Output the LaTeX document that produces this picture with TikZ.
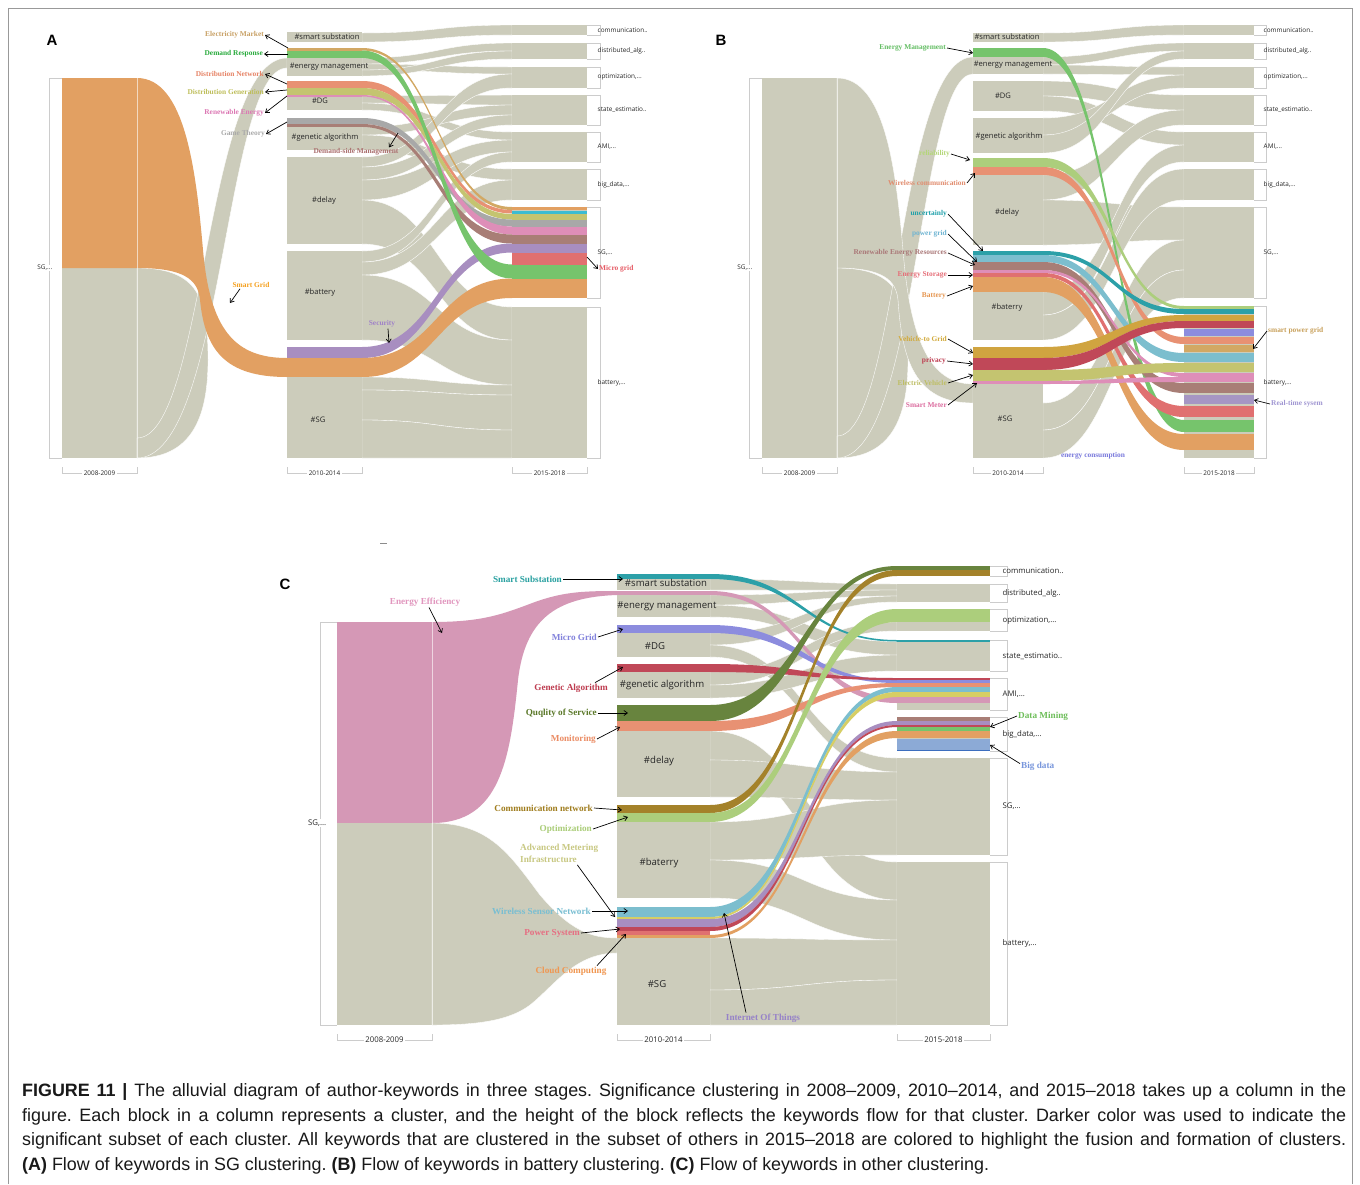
\documentclass[tikz,border=0pt]{standalone}
\usepackage{fontspec}
\setmainfont{Liberation Sans}
\newfontfamily\lblfont{Liberation Serif}
\newfontfamily\blkfont{Open Sans}
\usetikzlibrary{arrows.meta}
\definecolor{fgray}{RGB}{204,204,187}
\definecolor{cor}{RGB}{226,160,98}
\definecolor{ctan}{RGB}{210,168,100}
\definecolor{cgrn}{RGB}{118,196,108}
\definecolor{csal}{RGB}{232,145,115}
\definecolor{coli}{RGB}{196,196,112}
\definecolor{cpnk}{RGB}{222,142,184}
\definecolor{cdgy}{RGB}{168,168,168}
\definecolor{cbrn}{RGB}{168,126,118}
\definecolor{cpur}{RGB}{168,142,192}
\definecolor{cred}{RGB}{224,112,112}
\definecolor{ccya}{RGB}{60,188,210}
\definecolor{cteal}{RGB}{44,160,168}
\definecolor{clbl}{RGB}{124,190,206}
\definecolor{cgold}{RGB}{208,164,64}
\definecolor{cprv}{RGB}{192,72,88}
\definecolor{cper}{RGB}{140,140,222}
\definecolor{clav}{RGB}{166,150,196}
\definecolor{cpkC}{RGB}{213,152,182}
\definecolor{cdol}{RGB}{104,132,62}
\definecolor{cdgd}{RGB}{164,130,42}
\definecolor{clgr}{RGB}{172,206,124}
\definecolor{cblu}{RGB}{140,170,214}
\definecolor{cyel}{RGB}{214,206,100}
\definecolor{cdbl}{RGB}{60,110,190}
% text colours
\definecolor{tEM}{RGB}{200,160,100}
\definecolor{tDR}{RGB}{40,170,60}
\definecolor{tDN}{RGB}{230,130,100}
\definecolor{tDG}{RGB}{190,190,90}
\definecolor{tRE}{RGB}{220,120,180}
\definecolor{tGT}{RGB}{170,170,170}
\definecolor{tDS}{RGB}{170,110,110}
\definecolor{tSG}{RGB}{245,160,30}
\definecolor{tSE}{RGB}{160,130,200}
\definecolor{tMG}{RGB}{230,90,100}
\definecolor{tEB}{RGB}{100,190,100}
\definecolor{tRL}{RGB}{180,215,120}
\definecolor{tWC}{RGB}{225,140,110}
\definecolor{tUN}{RGB}{30,160,170}
\definecolor{tPG}{RGB}{110,180,210}
\definecolor{tRR}{RGB}{170,120,120}
\definecolor{tES}{RGB}{230,110,120}
\definecolor{tBA}{RGB}{230,150,80}
\definecolor{tVG}{RGB}{210,170,60}
\definecolor{tPV}{RGB}{190,60,80}
\definecolor{tEV}{RGB}{190,190,100}
\definecolor{tSM}{RGB}{220,110,160}
\definecolor{tSP}{RGB}{200,160,90}
\definecolor{tRT}{RGB}{160,150,210}
\definecolor{tEC}{RGB}{120,120,220}
\definecolor{tSS}{RGB}{40,160,160}
\definecolor{tEE}{RGB}{225,150,190}
\definecolor{tMC}{RGB}{130,130,220}
\definecolor{tGA}{RGB}{190,60,80}
\definecolor{tQS}{RGB}{90,120,40}
\definecolor{tMO}{RGB}{235,140,100}
\definecolor{tCN}{RGB}{160,125,30}
\definecolor{tOP}{RGB}{170,205,120}
\definecolor{tAM}{RGB}{200,200,130}
\definecolor{tWS}{RGB}{120,190,210}
\definecolor{tPS}{RGB}{230,110,130}
\definecolor{tCC}{RGB}{240,150,80}
\definecolor{tIT}{RGB}{150,130,200}
\definecolor{tDM}{RGB}{110,190,90}
\definecolor{tBD}{RGB}{120,150,220}
\newcommand{\flowband}[7]{%
  \path[#1] (#2,#3) .. controls ({(#2+#5)/2},#3) and ({(#2+#5)/2},#6) .. (#5,#6)
    -- (#5,#7) .. controls ({(#2+#5)/2},#7) and ({(#2+#5)/2},#4) .. (#2,#4) -- cycle;}
\frenchspacing
\begin{document}
\begin{tikzpicture}[x=1pt,y=-1pt,
  gflow/.style={fill=fgray,draw=white,line width=0.35pt},
  brk/.style={draw=black!20,line width=0.5pt},
  lbl/.style={font=\lblfont\bfseries\fontsize{7.4}{8}\selectfont,inner sep=1pt},
  lblc/.style={font=\lblfont\bfseries\fontsize{9.2}{10}\selectfont,inner sep=1pt},
  blkA/.style={font=\blkfont\fontsize{7.6}{8}\selectfont,inner sep=0pt,text=black!85},
  blkC/.style={font=\blkfont\fontsize{9.6}{10}\selectfont,inner sep=0pt,text=black!85},
  colA/.style={font=\blkfont\fontsize{6.4}{7}\selectfont,inner sep=0.5pt,anchor=west,text=black!85},
  colC/.style={font=\blkfont\fontsize{7.8}{9}\selectfont,inner sep=0.5pt,anchor=west,text=black!85},
  axA/.style={font=\blkfont\fontsize{6.4}{7}\selectfont,fill=white,inner sep=1.5pt,text=black!85},
  axC/.style={font=\blkfont\fontsize{7.8}{9}\selectfont,fill=white,inner sep=1.5pt,text=black!85},
  arr/.style={-{Straight Barb[length=3.5pt,width=5pt]},line width=0.7pt,black},
  captxt/.style={font=\fontsize{17.9}{21}\selectfont,inner sep=0pt,anchor=west,text=black!90},
  plet/.style={font=\bfseries\fontsize{15}{17}\selectfont,inner sep=0pt}
]
\useasboundingbox (0,0) rectangle (1360,1184);
\fill[white] (0,0) rectangle (1360,1184);
\draw[black!40,line width=1pt] (8,1184) -- (8,8) -- (1352,8) -- (1352,1184);

%================ PANEL A ================
\node[plet] (pA) at (52,40) {A};
\foreach \a/\b/\c/\d in {33/42/25/35, 58/64/43/51, 64/70/67/74, 70/76/51/59, 96/103/95/105, 103/110/132/140, 127/135/105/115, 135/150/169/180, 157/167/74/88, 167/180/115/125, 180/200/140/152, 200/244/307/340, 251/262/152/162, 262/275/180/200, 275/340/340/385, 377/390/385/395, 390/420/395/430, 420/458/430/458}{\flowband{gflow}{362}{\a}{\b}{512}{\c}{\d}}
\fill[fgray] (62,268) rectangle (137,458);
\path[gflow] (137,268) .. controls (200,268) and (208,300) .. (208,360) .. controls (208,420) and (190,458) .. (137,458) -- cycle;
\path[gflow] (137,438) .. controls (205,438) and (205,58) .. (287,58) -- (287,68) .. controls (224,68) and (224,458) .. (137,458) -- cycle;
\path[fill=cor] (62,78) -- (137,78) .. controls (185,78) and (196,170) .. (203,250) .. controls (210,330) and (235,358) .. (287,358) -- (287,377) .. controls (225,377) and (205,350) .. (200,300) .. controls (198,280) and (185,268) .. (137,268) -- (62,268) -- cycle;
\draw[white,opacity=0.6,line width=0.6pt] (137,78) -- (137,458);
\draw[brk] (62,78) -- (49,78) -- (49,458) -- (62,458);
\node[colA,anchor=east,fill=white] (aS1) at (53,268) {SG,...};
\foreach \a/\b in {32/42,48/76,81/110,118/150,157/244,251/340,347/458}{\fill[fgray] (287,\a) rectangle (362,\b);}
\fill[ctan] (287,48) rectangle (362,50.5);
\fill[cgrn] (287,50.5) rectangle (362,58);
\fill[csal] (287,81) rectangle (362,88);
\fill[coli] (287,88) rectangle (362,95);
\fill[cpnk] (287,95) rectangle (362,96.5);
\fill[cdgy] (287,118) rectangle (362,124);
\fill[cbrn] (287,124) rectangle (362,127);
\fill[cpur] (287,347) rectangle (362,358);
\fill[cor] (287,358) rectangle (362,377);
\flowband{fill=ctan}{362}{48}{50.5}{512}{207}{210}
\flowband{fill=csal}{362}{81}{88}{512}{210}{213.5}
\flowband{fill=coli}{362}{88}{95}{512}{214}{219.5}
\flowband{fill=cdgy}{362}{118}{124}{512}{219.5}{226.5}
\flowband{fill=cpnk}{362}{95}{96.5}{512}{226.5}{234.5}
\flowband{fill=cbrn}{362}{124}{127}{512}{234.5}{243.5}
\flowband{fill=cpur}{362}{347}{358}{512}{243.5}{252.5}
\flowband{fill=cgrn}{362}{50.5}{58}{512}{264.5}{278.5}
\flowband{fill=cor}{362}{358}{377}{512}{278.5}{298}
\foreach \a/\b in {25/35,43/59,67/88,95/125,132/162,169/200,207/298,307/458}{\fill[fgray] (512,\a) rectangle (587,\b); \draw[brk] (587,\a) -- (600,\a) -- (600,\b) -- (587,\b);}
\fill[cor] (512,207) rectangle (587,210);
\fill[ccya] (512,210.5) rectangle (587,213.5);
\fill[coli] (512,214) rectangle (587,219.5);
\fill[cdgy] (512,219.5) rectangle (587,226.5);
\fill[cpnk] (512,226.5) rectangle (587,234.5);
\fill[cbrn] (512,234.5) rectangle (587,243.5);
\fill[cpur] (512,243.5) rectangle (587,252.5);
\fill[cred] (512,252.5) rectangle (587,264.5);
\fill[cgrn] (512,264.5) rectangle (587,278.5);
\fill[cor] (512,278.5) rectangle (587,298);
% block texts
\node[blkA] (a21) at (327,37) {\#smart substation};
\node[blkA] (a22) at (329,67) {\#energy management};
\node[blkA] (a23) at (320,101) {\#DG};
\node[blkA] (a24) at (325,138) {\#genetic algorithm};
\node[blkA] (a25) at (324,201) {\#delay};
\node[blkA] (a26) at (320,293) {\#battery};
\node[blkA] (a27) at (318,420) {\#SG};
\node[colA] (a31) at (597,30) {communication..};
\node[colA] (a32) at (597,51) {distributed\_alg..};
\node[colA] (a33) at (597,77) {optimization,...};
\node[colA] (a34) at (597,110) {state\_estimatio..};
\node[colA] (a35) at (597,147) {AMI,...};
\node[colA] (a36) at (597,185) {big\_data,...};
\node[colA] (a37) at (597,253) {SG,...};
\node[colA] (a38) at (597,383) {battery,...};
\draw[brk] (62,467) -- (62,473) -- (137,473) -- (137,467);
\draw[brk] (287,467) -- (287,473) -- (362,473) -- (362,467);
\draw[brk] (512,467) -- (512,473) -- (587,473) -- (587,467);
\node[axA] (ax1) at (99.5,473) {2008-2009};
\node[axA] (ax2) at (324.5,473) {2010-2014};
\node[axA] (ax3) at (549.5,473) {2015-2018};
% labels A
\node[lbl,text=tEM,anchor=east] (lEM) at (265,35) {Electricity Market};
\node[lbl,text=tDR,anchor=east] (lDR) at (264,54) {Demand Response};
\node[lbl,text=tDN,anchor=east] (lDN) at (265,74) {Distribution Network};
\node[lbl,text=tDG,anchor=east] (lDG) at (265,92) {Distribution Generation};
\node[lbl,text=tRE,anchor=east] (lRE) at (265,113) {Renewable Energy};
\node[lbl,text=tGT,anchor=east] (lGT) at (266,134) {Game Theory};
\node[lbl,text=tDS] (lDS) at (356,152) {Demand-side Management};
\node[lbl,text=tSG] (lSG) at (251,285) {Smart Grid};
\node[lbl,text=tSE] (lSE) at (382,324) {Security};
\node[lbl,text=tMG,anchor=west] (lMG) at (598,269) {Micro grid};
\coordinate (kEM) at (288,48); \coordinate (kDR) at (288,54);
\coordinate (kDN) at (287,84); \coordinate (kDG) at (287,90);
\coordinate (kRE) at (287,96); \coordinate (kGT) at (287,122);
\coordinate (kDS) at (398,133); \coordinate (kSG) at (230,303);
\coordinate (kSE) at (389,343); \coordinate (kMG) at (587,257);
\draw[arr] (kEM) -- (lEM.east);
\draw[arr] (kDR) -- (lDR.east);
\draw[arr] (kDN) -- (lDN.east);
\draw[arr] (kDG) -- (lDG.east);
\draw[arr] (kRE) -- (lRE.east);
\draw[arr] (kGT) -- (lGT.east);
\draw[arr] (kDS) -- ([xshift=33pt]lDS.north);
\draw[arr] ([xshift=-11pt]lSG.south) -- (kSG);
\draw[arr] ([xshift=6pt]lSE.south) -- (kSE);
\draw[arr] (kMG) -- (lMG.west);

%================ PANEL B ================
\node[plet] (pB) at (721,40) {B};
\foreach \a/\b/\c/\d in {33/42/25/35, 57/65/43/51, 65/74/67/75, 81/96/95/110, 96/111/132/145, 118/135/75/88, 135/153/51/59, 175/200/110/125, 200/245/207/240, 292/315/145/162, 315/340/169/200, 403/430/240/270, 430/458/270/298}{\flowband{gflow}{1043}{\a}{\b}{1184}{\c}{\d}}
\fill[fgray] (762,78) rectangle (837,458);
\path[gflow] (837,268) .. controls (900,268) and (908,300) .. (908,360) .. controls (908,420) and (890,458) .. (837,458) -- cycle;
\path[gflow] (837,436) .. controls (898,436) and (898,57) .. (973,57) -- (973,74) .. controls (918,74) and (918,458) .. (837,458) -- cycle;
\path[gflow] (837,78) .. controls (885,78) and (896,170) .. (903,250) .. controls (910,340) and (930,384) .. (973,384) -- (973,403) .. controls (915,403) and (902,360) .. (898,300) .. controls (896,280) and (883,268) .. (837,268) -- cycle;
\draw[white,opacity=0.6,line width=0.6pt] (837,78) -- (837,458);
\draw[brk] (762,78) -- (749,78) -- (749,458) -- (762,458);
\node[colA,anchor=east,fill=white] (bS1) at (753,268) {SG,...};
\foreach \a/\b in {33/42,48/74,81/111,118/153,158/245,251/340,347/458}{\fill[fgray] (973,\a) rectangle (1043,\b);}
\fill[cgrn] (973,48) rectangle (1043,57);
\fill[clgr] (973,158) rectangle (1043,167);
\fill[csal] (973,167) rectangle (1043,175);
\fill[cteal] (973,251) rectangle (1043,255);
\fill[clbl] (973,255) rectangle (1043,262);
\fill[cbrn] (973,262) rectangle (1043,270);
\fill[cpnk] (973,270) rectangle (1043,273);
\fill[cred] (973,273) rectangle (1043,277);
\fill[cor] (973,277) rectangle (1043,292);
\fill[cgold] (973,347) rectangle (1043,358);
\fill[cprv] (973,358) rectangle (1043,370);
\fill[coli] (973,370) rectangle (1043,381);
\fill[cpnk] (973,381) rectangle (1043,384);
\flowband{fill=cgrn}{1043}{48}{57}{1184}{420}{432}
\flowband{fill=clgr}{1043}{158}{167}{1184}{306}{309}
\flowband{fill=csal}{1043}{167}{175}{1184}{337}{344}
\flowband{fill=cteal}{1043}{251}{255}{1184}{309}{314}
\flowband{fill=clbl}{1043}{255}{262}{1184}{353}{362}
\flowband{fill=cbrn}{1043}{262}{270}{1184}{383}{393}
\flowband{fill=cpnk}{1043}{270}{273}{1184}{373}{377}
\flowband{fill=cred}{1043}{273}{277}{1184}{406}{417}
\flowband{fill=cor}{1043}{277}{292}{1184}{434}{450}
\flowband{fill=cgold}{1043}{347}{358}{1184}{315}{321}
\flowband{fill=cprv}{1043}{358}{370}{1184}{321}{328}
\flowband{fill=coli}{1043}{370}{381}{1184}{363}{372}
\flowband{fill=cpnk}{1043}{381}{384}{1184}{377}{382}
\foreach \a/\b in {25/35,43/59,67/88,95/125,132/162,169/200,207/298,306/458}{\fill[fgray] (1184,\a) rectangle (1254,\b); \draw[brk] (1254,\a) -- (1266,\a) -- (1266,\b) -- (1254,\b);}
\fill[clgr] (1184,306) rectangle (1254,309);
\fill[cteal] (1184,309) rectangle (1254,314);
\fill[cgold] (1184,315) rectangle (1254,321);
\fill[cprv] (1184,321) rectangle (1254,328);
\fill[cper] (1184,329) rectangle (1254,336);
\fill[csal] (1184,337) rectangle (1254,344);
\fill[ctan] (1184,345) rectangle (1254,352);
\fill[clbl] (1184,353) rectangle (1254,362);
\fill[coli] (1184,363) rectangle (1254,372);
\fill[cpnk] (1184,373) rectangle (1254,382);
\fill[cbrn] (1184,383) rectangle (1254,393);
\fill[clav] (1184,395) rectangle (1254,404);
\fill[cred] (1184,406) rectangle (1254,417);
\fill[cgrn] (1184,420) rectangle (1254,432);
\fill[cor] (1184,434) rectangle (1254,450);
\node[blkA] (b21) at (1007,37) {\#smart substation};
\node[blkA] (b22) at (1013,65) {\#energy management};
\node[blkA] (b23) at (1003,96) {\#DG};
\node[blkA] (b24) at (1009,137) {\#genetic algorithm};
\node[blkA] (b25) at (1007,213) {\#delay};
\node[blkA] (b26) at (1007,308) {\#baterry};
\node[blkA] (b27) at (1005,419) {\#SG};
\node[colA] (b31) at (1263,30) {communication..};
\node[colA] (b32) at (1263,51) {distributed\_alg..};
\node[colA] (b33) at (1263,77) {optimization,...};
\node[colA] (b34) at (1263,110) {state\_estimatio..};
\node[colA] (b35) at (1263,147) {AMI,...};
\node[colA] (b36) at (1263,185) {big\_data,...};
\node[colA] (b37) at (1263,253) {SG,...};
\node[colA] (b38) at (1263,383) {battery,...};
\draw[brk] (762,467) -- (762,473) -- (837,473) -- (837,467);
\draw[brk] (973,467) -- (973,473) -- (1043,473) -- (1043,467);
\draw[brk] (1184,467) -- (1184,473) -- (1254,473) -- (1254,467);
\node[axA] (bx1) at (799.5,473) {2008-2009};
\node[axA] (bx2) at (1008,473) {2010-2014};
\node[axA] (bx3) at (1219,473) {2015-2018};
\node[lbl,text=tEB,anchor=east] (lEB) at (947,48) {Energy Management};
\node[lbl,text=tRL,anchor=east] (lRL) at (951,154) {reliability};
\node[lbl,text=tWC,anchor=east] (lWC) at (967,183) {Wireless communication};
\node[lbl,text=tUN,anchor=east] (lUN) at (948,214) {uncertainly};
\node[lbl,text=tPG,anchor=east] (lPG) at (948,234) {power grid};
\node[lbl,text=tRR,anchor=east] (lRR) at (948,253) {Renewable Energy Resources};
\node[lbl,text=tES,anchor=east] (lES) at (948,275) {Energy Storage};
\node[lbl,text=tBA,anchor=east] (lBA) at (947,296) {Battery};
\node[lbl,text=tVG,anchor=east] (lVG) at (948,339) {Vehicle-to Grid};
\node[lbl,text=tPV,anchor=east] (lPV) at (947,361) {privacy};
\node[lbl,text=tEV,anchor=east] (lEV) at (948,383) {Electric Vehicle};
\node[lbl,text=tSM,anchor=east] (lSM) at (948,405) {Smart Meter};
\node[lbl,text=tSP,anchor=west] (lSP) at (1267,331) {smart power grid};
\node[lbl,text=tRT,anchor=west] (lRT) at (1270,404) {Real-time sysem};
\node[lbl,text=tEC] (lEC) at (1093,456) {energy consumption};
\coordinate (kEB) at (973,53); \coordinate (kRL) at (970,160);
\coordinate (kWC) at (975,173); \coordinate (kUN) at (983,251);
\coordinate (kPG) at (977,262); \coordinate (kRR) at (975,265);
\coordinate (kES) at (973,275); \coordinate (kBA) at (973,286);
\coordinate (kVG) at (973,353); \coordinate (kPV) at (973,364);
\coordinate (kEV) at (973,375); \coordinate (kSM) at (977,383);
\coordinate (kSP) at (1253,349); \coordinate (kRT) at (1254,400);
\draw[arr] (lEB.east) -- (kEB);
\draw[arr] (lRL.east) -- (kRL);
\draw[arr] (lWC.east) -- (kWC);
\draw[arr] (lUN.east) -- (kUN);
\draw[arr] (lPG.east) -- (kPG);
\draw[arr] (lRR.east) -- (kRR);
\draw[arr] (lES.east) -- (kES);
\draw[arr] (lBA.east) -- (kBA);
\draw[arr] (lVG.east) -- (kVG);
\draw[arr] (lPV.east) -- (kPV);
\draw[arr] (lEV.east) -- (kEV);
\draw[arr] (lSM.east) -- (kSM);
\draw[arr] (lSP.west) -- (kSP);
\draw[arr] (lRT.west) -- (kRT);

%================ PANEL C ================
\draw[black!45,line width=0.6pt] (380,543) -- (387,543);
\node[plet] (pC) at (285,584) {C};
\foreach \a/\b/\c/\d in {579/590/584/590, 595/605/590/596, 605/617/641.5/655, 633/645/596/602, 645/657/758/772, 672/685/622/631, 685/698/655/671, 731/760/862/900, 760/797/772/800, 822/860/800/855, 860/898/900/940, 938/990/940/980, 990/1025/980/1025}{\flowband{gflow}{710}{\a}{\b}{897}{\c}{\d}}
\fill[cpkC] (337,622) rectangle (432,823);
\fill[fgray] (337,823) rectangle (432,1025);
\path[fill=cpkC] (432,622) .. controls (480,622) and (500,615) .. (527,605) .. controls (560,592) and (580,591) .. (617,591) -- (617,595) .. controls (555,597) and (525,620) .. (518,680) .. controls (510,760) and (500,823) .. (432,823) -- cycle;
\path[gflow] (432,823) .. controls (490,823) and (510,855) .. (540,895) .. controls (570,930) and (590,938) .. (617,938) -- (617,953) .. controls (575,953) and (555,985) .. (530,1005) .. controls (510,1020) and (480,1025) .. (432,1025) -- cycle;
\draw[white,opacity=0.6,line width=0.6pt] (432,622) -- (432,1025);
\draw[brk] (337,622) -- (320,622) -- (320,1025) -- (337,1025);
\node[colC,anchor=east,fill=white] (cS1) at (327,823) {SG,...};
\foreach \a/\b in {574/590,591/617,625/657,664/698,705/797,805/898,907/1025}{\fill[fgray] (617,\a) rectangle (710,\b);}
\fill[cteal] (617,574) rectangle (710,579);
\fill[cpkC] (617,591) rectangle (710,595);
\fill[cper] (617,625) rectangle (710,633);
\fill[cprv] (617,664) rectangle (710,672);
\fill[cdol] (617,705) rectangle (710,721);
\fill[csal] (617,721) rectangle (710,731);
\fill[cdgd] (617,805) rectangle (710,813);
\fill[clgr] (617,813) rectangle (710,822);
\fill[clbl] (617,907) rectangle (710,917);
\fill[cyel] (617,917) rectangle (710,919);
\fill[cpur] (617,919) rectangle (710,927);
\fill[cprv] (617,927) rectangle (710,931);
\fill[cred] (617,931) rectangle (710,935);
\fill[cor] (617,935) rectangle (710,938);
\flowband{fill=cteal}{710}{574}{579}{897}{640}{641.5}
\flowband{fill=cpkC}{710}{591}{595}{897}{697}{703}
\flowband{fill=cper}{710}{625}{633}{897}{680}{683}
\flowband{fill=cprv}{710}{664}{672}{897}{678}{680}
\flowband{fill=csal}{710}{721}{731}{897}{683}{687}
\flowband{fill=clbl}{710}{907}{917}{897}{687}{692}
\flowband{fill=cyel}{710}{917}{919}{897}{692}{697}
\flowband{fill=cpur}{710}{919}{927}{897}{721}{725}
\flowband{fill=cprv}{710}{927}{931}{897}{725}{727}
\flowband{fill=cor}{710}{935}{938}{897}{731}{738}
\flowband{fill=cdol}{710}{705}{721}{897}{566}{570}
\flowband{fill=cdgd}{710}{805}{813}{897}{570}{576}
\flowband{fill=clgr}{710}{813}{822}{897}{609}{622}
\foreach \a/\b in {566/576,584/602,609/631,640/671,678/710,717/751,758/855,862/1025}{\fill[fgray] (897,\a) rectangle (990,\b); \draw[brk] (990,\a) -- (1007,\a) -- (1007,\b) -- (990,\b);}
\fill[cdol] (897,566) rectangle (990,570);
\fill[cdgd] (897,570) rectangle (990,576);
\fill[clgr] (897,609) rectangle (990,622);
\fill[cteal] (897,640) rectangle (990,641.5);
\fill[cprv] (897,678) rectangle (990,680);
\fill[cper] (897,680) rectangle (990,683);
\fill[csal] (897,683) rectangle (990,687);
\fill[clbl] (897,687) rectangle (990,692);
\fill[cyel] (897,692) rectangle (990,697);
\fill[cpkC] (897,697) rectangle (990,703);
\fill[cbrn] (897,717) rectangle (990,721);
\fill[cpur] (897,721) rectangle (990,725);
\fill[cprv] (897,725) rectangle (990,727);
\fill[cgrn] (897,727) rectangle (990,731);
\fill[cor] (897,731) rectangle (990,738);
\fill[cblu] (897,739) rectangle (990,750);
\fill[cdbl] (897,750) rectangle (990,751);
\node[blkC] (c21) at (666,583) {\#smart substation};
\node[blkC] (c22) at (667,606) {\#energy management};
\node[blkC] (c23) at (655,646) {\#DG};
\node[blkC] (c24) at (662,685) {\#genetic algorithm};
\node[blkC] (c25) at (659,761) {\#delay};
\node[blkC] (c26) at (659,863) {\#baterry};
\node[blkC] (c27) at (657,984) {\#SG};
\node[colC] (c31) at (1002,571) {communication..};
\node[colC] (c32) at (1002,593) {distributed\_alg..};
\node[colC] (c33) at (1002,621) {optimization,...};
\node[colC] (c34) at (1002,656) {state\_estimatio..};
\node[colC] (c35) at (1002,694) {AMI,...};
\node[colC] (c36) at (1002,734) {big\_data,...};
\node[colC] (c37) at (1002,806) {SG,...};
\node[colC] (c38) at (1002,943) {battery,...};
\draw[brk] (337,1034) -- (337,1040) -- (432,1040) -- (432,1034);
\draw[brk] (617,1034) -- (617,1040) -- (710,1040) -- (710,1034);
\draw[brk] (897,1034) -- (897,1040) -- (990,1040) -- (990,1034);
\node[axC] (cx1) at (384.5,1040) {2008-2009};
\node[axC] (cx2) at (663.5,1040) {2010-2014};
\node[axC] (cx3) at (943.5,1040) {2015-2018};
\node[lblc,text=tSS,anchor=east] (lSS) at (563,579) {Smart Substation};
\node[lblc,text=tEE] (lEE) at (425,602) {Energy Efficiency};
\node[lblc,text=tMC,anchor=east] (lMC) at (598,637) {Micro Grid};
\node[lblc,text=tGA] (lGA) at (571,688) {Genetic Algorithm};
\node[lblc,text=tQS,anchor=east] (lQS) at (598,713) {Quqlity of Service};
\node[lblc,text=tMO,anchor=east] (lMO) at (597,739) {Monitoring};
\node[lblc,text=tCN,anchor=east] (lCN) at (594,808) {Communication network};
\node[lblc,text=tOP,anchor=east] (lOP) at (593,829) {Optimization};
\node[lblc,text=tAM,anchor=north west,align=left,font=\lblfont\bfseries\fontsize{9.2}{12}\selectfont] (lAM) at (519,843) {Advanced Metering\\Infrastructure};
\node[lblc,text=tWS,anchor=east] (lWS) at (592,911) {Wireless Sensor Network};
\node[lblc,text=tPS,anchor=east] (lPS) at (581,933) {Power System};
\node[lblc,text=tCC] (lCC) at (571,971) {Cloud Computing};
\node[lblc,text=tIT] (lIT) at (763,1018) {Internet Of Things};
\node[lblc,text=tDM,anchor=west] (lDM) at (1017,716) {Data Mining};
\node[lblc,text=tBD,anchor=west] (lBD) at (1020,766) {Big data};
\coordinate (kSS) at (623,579); \coordinate (kEE) at (442,633);
\coordinate (kMC) at (623,629); \coordinate (kGA) at (623,667);
\coordinate (kQS) at (628,713); \coordinate (kMO) at (620,727);
\coordinate (kCN) at (622,810); \coordinate (kOP) at (628,817);
\coordinate (kAM) at (615,917); \coordinate (kWS) at (628,911);
\coordinate (kPS) at (620,929); \coordinate (kCC) at (626,934);
\coordinate (kIT) at (724,913); \coordinate (kDM) at (990,727);
\coordinate (kBD) at (990,745);
\draw[arr] (lSS.east) -- (kSS);
\draw[arr] ([xshift=4pt]lEE.south) -- (kEE);
\draw[arr] (lMC.east) -- (kMC);
\draw[arr] ([xshift=24pt]lGA.north) -- (kGA);
\draw[arr] (lQS.east) -- (kQS);
\draw[arr] (lMO.east) -- (kMO);
\draw[arr] (lCN.east) -- (kCN);
\draw[arr] (lOP.east) -- (kOP);
\draw[arr] ([xshift=-22pt,yshift=-1pt]lAM.south east) -- (kAM);
\draw[arr] (lWS.east) -- (kWS);
\draw[arr] (lPS.east) -- (kPS);
\draw[arr] ([xshift=26pt]lCC.north) -- (kCC);
\draw[arr] ([xshift=-17pt]lIT.north) -- (kIT);
\draw[arr] (lDM.west) -- (kDM);
\draw[arr] ([yshift=-3pt]lBD.north west) -- (kBD);

%================ CAPTION ================
\node[captxt] (cap1) at (22,1092) {\makebox[1324pt][s]{\textbf{FIGURE 11 |} The alluvial diagram of author-keywords in three stages. Significance clustering in 2008–2009, 2010–2014, and 2015–2018 takes up a column in the}};
\node[captxt] (cap2) at (22,1117) {\makebox[1324pt][s]{figure. Each block in a column represents a cluster, and the height of the block reflects the keywords flow for that cluster. Darker color was used to indicate the}};
\node[captxt] (cap3) at (22,1141) {\makebox[1324pt][s]{significant subset of each cluster. All keywords that are clustered in the subset of others in 2015–2018 are colored to highlight the fusion and formation of clusters.}};
\node[captxt] (cap4) at (22,1166) {\textbf{(A)} Flow of keywords in SG clustering. \textbf{(B)} Flow of keywords in battery clustering. \textbf{(C)} Flow of keywords in other clustering.};
\end{tikzpicture}
\end{document}
